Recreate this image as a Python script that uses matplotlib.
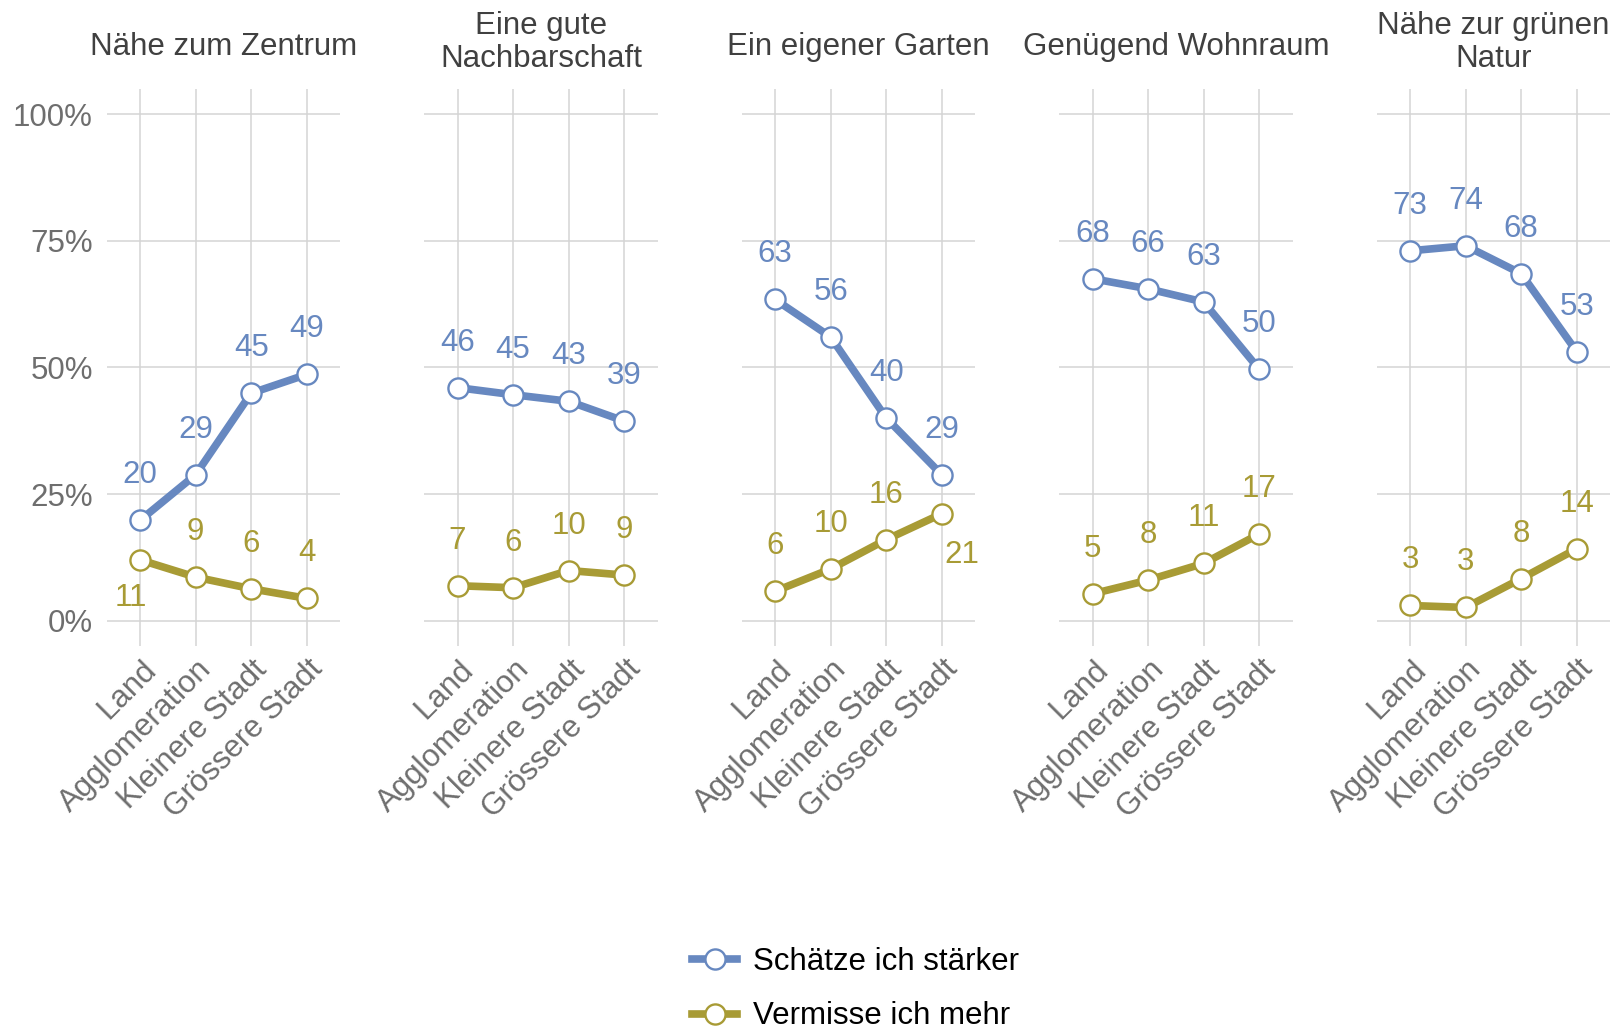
import matplotlib
matplotlib.use("Agg")
import matplotlib.pyplot as plt
import matplotlib.transforms as mtransforms
from matplotlib.lines import Line2D

plt.rcParams['font.family'] = ['Liberation Sans', 'DejaVu Sans']

# ---------------- data ----------------
regions = ["Land", "Agglomeration", "Kleinere Stadt", "Grössere Stadt"]
titles = [["Nähe zum Zentrum"], ["Eine gute", "Nachbarschaft"], ["Ein eigener Garten"],
          ["Genügend Wohnraum"], ["Nähe zur grünen", "Natur"]]
series_names = ["Schätze ich stärker", "Vermisse ich mehr"]

blue_vals = [[19.8, 28.8, 44.9, 48.6],
             [46.0, 44.6, 43.3, 39.4],
             [63.4, 56.0, 40.0, 28.8],
             [67.5, 65.5, 62.9, 49.6],
             [73.0, 74.0, 68.5, 53.1]]
blue_labels = [[20, 29, 45, 49],
               [46, 45, 43, 39],
               [63, 56, 40, 29],
               [68, 66, 63, 50],
               [73, 74, 68, 53]]
olive_vals = [[12.0, 8.6, 6.3, 4.4],
              [6.9, 6.5, 9.9, 9.0],
              [5.8, 10.2, 16.0, 21.1],
              [5.3, 8.0, 11.3, 17.1],
              [3.0, 2.6, 8.3, 14.2]]
olive_labels = [[11, 9, 6, 4],
                [7, 6, 10, 9],
                [6, 10, 16, 21],
                [5, 8, 11, 17],
                [3, 3, 8, 14]]
y_ticks = [0, 25, 50, 75, 100]

# ---------------- style ----------------
BLUE = "#6788C0"
OLIVE = "#A89B35"
GRID = "#D4D4D4"
TICK_C = "#6E6E6E"
TITLE_C = "#404040"
FS = 22.5
LW = 5.5
MS = 14.5
MEW = 1.7
# label offsets (pixels) relative to point: default above; exceptions (panel, series, index)
LABEL_UP = 37
label_exceptions = {(0, 1, 0): (-9, -46), (2, 1, 3): (20, -49)}

W, H = 1614, 1033
fig = plt.figure(figsize=(W / 100, H / 100), dpi=100)

panel_left0 = 106.7
panel_step = 317.5
panel_w = 233.4
ax_top = 88.7
ax_bot = 646.0

axes = []
for i in range(5):
    left = (panel_left0 + panel_step * i) / W
    ax = fig.add_axes([left, 1 - ax_bot / H, panel_w / W, (ax_bot - ax_top) / H])
    axes.append(ax)

for i, ax in enumerate(axes):
    x = list(range(1, len(regions) + 1))
    ax.set_xlim(0.4, 4.6)
    ax.set_ylim(-5, 105)
    for s in ax.spines.values():
        s.set_visible(False)
    ax.set_yticks(y_ticks)
    ax.set_xticks(x)
    ax.grid(True, color=GRID, linewidth=1.1, zorder=0)
    ax.set_axisbelow(True)
    ax.tick_params(length=0)
    if i == 0:
        ax.set_yticklabels([f"{t}%" for t in y_ticks], fontsize=FS, color=TICK_C)
        ax.tick_params(axis='y', pad=10)
    else:
        ax.set_yticklabels([])
    ax.set_xticklabels(regions, fontsize=FS, color=TICK_C, rotation=45,
                       ha='right', va='top', rotation_mode='anchor')
    ax.tick_params(axis='x', pad=6)
    off = mtransforms.ScaledTranslation(1 / 100, 0, fig.dpi_scale_trans)
    for lab in ax.get_xticklabels():
        lab.set_transform(lab.get_transform() + off)

    for sidx, (vals, labs, col) in enumerate([(blue_vals[i], blue_labels[i], BLUE),
                                              (olive_vals[i], olive_labels[i], OLIVE)]):
        ax.plot(x, vals, color=col, linewidth=LW, zorder=3,
                marker='o', markersize=MS, markerfacecolor='white',
                markeredgecolor=col, markeredgewidth=MEW, clip_on=False)
        for j, (xv, yv, lab) in enumerate(zip(x, vals, labs)):
            dx, dy = label_exceptions.get((i, sidx, j), (0, LABEL_UP))
            ax.annotate(str(lab), (xv, yv), xytext=(dx, dy), textcoords='offset pixels',
                        ha='center', va='baseline', fontsize=FS, color=col, zorder=4)

    # panel titles
    cx = (panel_left0 + panel_step * i + panel_w / 2) / W
    lines = titles[i]
    if len(lines) == 1:
        baselines = [55]
    else:
        baselines = [34, 67]
    for ln, b in zip(lines, baselines):
        fig.text(cx, 1 - b / H, ln, ha='center', va='baseline', fontsize=FS, color=TITLE_C)

handles = [Line2D([0], [0], color=c, linewidth=LW, marker='o', markersize=MS,
                  markerfacecolor='white', markeredgecolor=c, markeredgewidth=MEW)
           for c in (BLUE, OLIVE)]
leg = fig.legend(handles, series_names, loc='center left',
                 bbox_to_anchor=(692 / W, 1 - 989 / H), frameon=False,
                 fontsize=FS, handlelength=1.45, handletextpad=0.5,
                 labelspacing=0.8, borderpad=0, borderaxespad=0)
for t in leg.get_texts():
    t.set_color("black")

fig.savefig("out.png", dpi=100)
